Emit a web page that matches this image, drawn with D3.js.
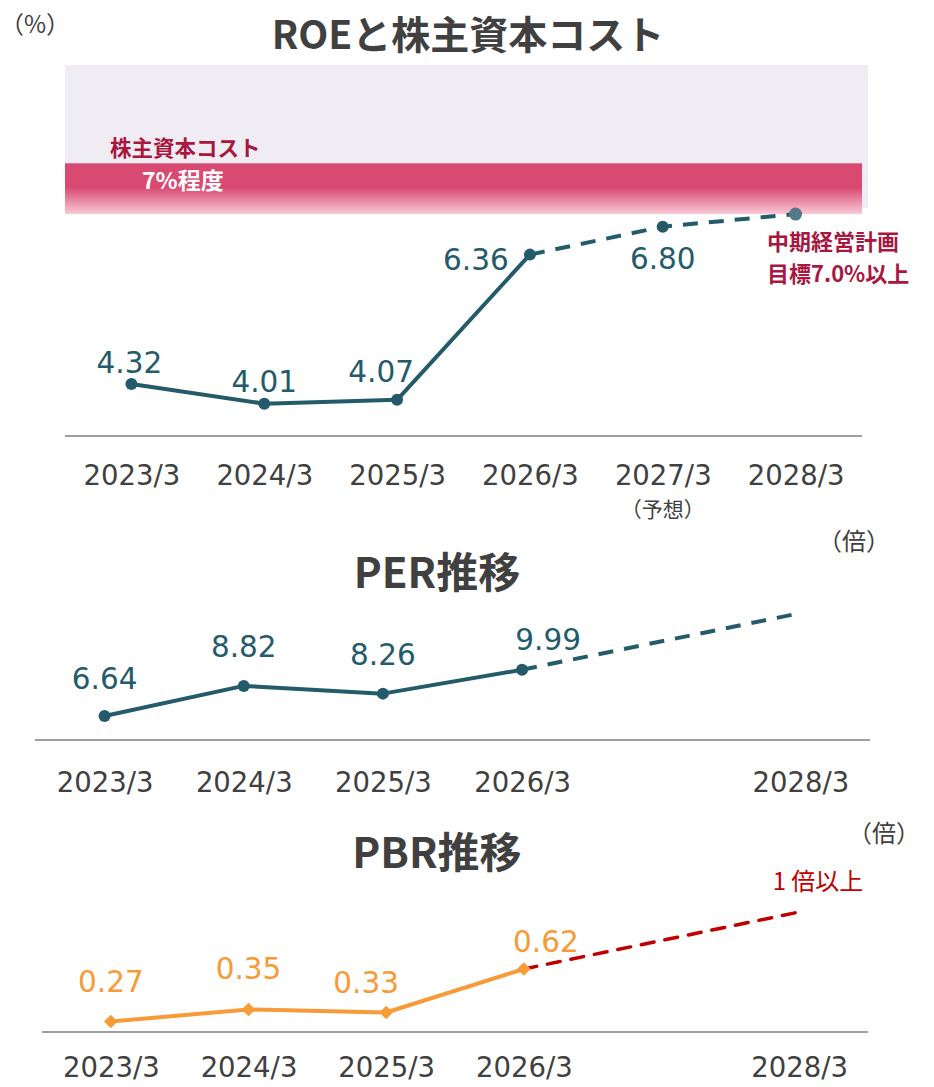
<!DOCTYPE html>
<html lang="ja">
<head>
<meta charset="utf-8">
<script src="https://cdn.jsdelivr.net/npm/d3@7"></script>
<style>
  html, body { margin: 0; padding: 0; background: #fff; }
  svg { display: block; }
</style>
</head>
<body>
<script>
// ---- data ----
const roeCategories = ["2023/3", "2024/3", "2025/3", "2026/3", "2027/3", "2028/3"];
const roeActual = [4.32, 4.01, 4.07, 6.36];       // 2023/3 – 2026/3
const roeForecast = [6.36, 6.80];                 // 2026/3 – 2027/3 (予想)
const roeTarget = 7.0;                            // 2028/3 中期経営計画目標
const costOfEquityBand = [7.0, 7.8];              // 株主資本コスト 7%程度

const perCategories = ["2023/3", "2024/3", "2025/3", "2026/3", "2027/3", "2028/3"];
const perTickLabels = ["2023/3", "2024/3", "2025/3", "2026/3", "", "2028/3"];
const perActual = [6.64, 8.82, 8.26, 9.99];
const perTrendEnd = 14.1;

const pbrCategories = ["2023/3", "2024/3", "2025/3", "2026/3", "2027/3", "2028/3"];
const pbrTickLabels = ["2023/3", "2024/3", "2025/3", "2026/3", "", "2028/3"];
const pbrActual = [0.27, 0.35, 0.33, 0.62];
const pbrTarget = 1.0;

// ---- styles ----
const W = 934, H = 1087;
const TEAL = "#245b6b";
const ORANGE = "#f79a38";
const RED = "#c00000";
const WINE = "#a8173f";
const TEXT = "#404040";
const NUM_FONT = "'DejaVu Sans', Verdana, sans-serif";
const JP_FONT = "'Noto Sans CJK JP', 'Noto Sans', sans-serif";

const svg = d3.select("body").append("svg").attr("width", W).attr("height", H);

const defs = svg.append("defs");
const grad = defs.append("linearGradient").attr("id", "bandGrad")
  .attr("x1", 0).attr("y1", 0).attr("x2", 0).attr("y2", 1);
grad.append("stop").attr("offset", "0%").attr("stop-color", "#d94a72");
grad.append("stop").attr("offset", "48%").attr("stop-color", "#d94a72");
grad.append("stop").attr("offset", "100%").attr("stop-color", "#f9c9d7");

function title(text, x, y, size) {
  svg.append("text").attr("x", x).attr("y", y).attr("text-anchor", "middle")
    .attr("font-family", JP_FONT).attr("font-weight", 700).attr("font-size", size)
    .attr("fill", TEXT).text(text);
}
function unitLabel(text, x, y) {
  svg.append("text").attr("x", x).attr("y", y)
    .attr("font-family", JP_FONT).attr("font-size", 24).attr("fill", TEXT).text(text);
}
function baseAxis(x, y0, labels, pad) {
  const g = svg.append("g").attr("transform", `translate(0,${y0})`)
    .call(d3.axisBottom(x).tickSize(0).tickPadding(pad).tickFormat((d, i) => labels[i]));
  g.select(".domain").attr("stroke", "#7f7f7f").attr("stroke-width", 1.5)
    .attr("d", `M${x.range()[0]},0H${x.range()[1]}`);
  g.selectAll(".tick text").attr("font-family", NUM_FONT).attr("font-size", 27.5)
    .attr("fill", TEXT);
  return g;
}
function valueLabels(x, y, cats, vals, shifts, color, fmt) {
  svg.append("g").selectAll("text").data(vals).join("text")
    .attr("x", (d, i) => x(cats[i]) + shifts[i][0])
    .attr("y", (d, i) => y(d) + shifts[i][1])
    .attr("text-anchor", "middle")
    .attr("font-family", NUM_FONT).attr("font-size", 29.5).attr("fill", color)
    .text(d => fmt(d));
}

// =============== ROE と株主資本コスト ===============
{
  const x = d3.scalePoint().domain(roeCategories).range([65, 862]).padding(0.5);
  const y = d3.scaleLinear().domain([3.5, 9.35]).range([436, 65]);

  title("ROEと株主資本コスト", 468, 49, 39);
  unitLabel("（%）", 0, 33);

  // plan area background and cost-of-equity band
  svg.append("rect").attr("x", 65).attr("width", 803)
    .attr("y", y(9.35)).attr("height", y(costOfEquityBand[0]) - 6 - y(9.35))
    .attr("fill", "#efedf3");
  svg.append("rect").attr("x", 65).attr("width", 797)
    .attr("y", y(costOfEquityBand[1])).attr("height", y(costOfEquityBand[0]) - y(costOfEquityBand[1]))
    .attr("fill", "url(#bandGrad)");
  svg.append("text").attr("x", 110).attr("y", 156)
    .attr("font-family", JP_FONT).attr("font-weight", 700).attr("font-size", 21.5)
    .attr("fill", WINE).text("株主資本コスト");
  svg.append("text").attr("x", 142).attr("y", 189)
    .attr("font-family", JP_FONT).attr("font-weight", 700).attr("font-size", 23)
    .attr("fill", "#fff").text("7%程度");

  baseAxis(x, 436, roeCategories, 29);
  svg.append("text").attr("x", x("2027/3")).attr("y", 517).attr("text-anchor", "middle")
    .attr("font-family", JP_FONT).attr("font-size", 21).attr("fill", TEXT).text("（予想）");

  const line = d3.line().x(d => x(d[0])).y(d => y(d[1]));
  const actualPts = roeActual.map((v, i) => [roeCategories[i], v]);
  const forecastPts = [[roeCategories[3], roeForecast[0]], [roeCategories[4], roeForecast[1]],
                       [roeCategories[5], roeTarget]];
  svg.append("path").attr("d", line(forecastPts)).attr("fill", "none")
    .attr("stroke", TEAL).attr("stroke-width", 4).attr("stroke-dasharray", "15,11");
  svg.append("path").attr("d", line(actualPts)).attr("fill", "none")
    .attr("stroke", TEAL).attr("stroke-width", 4).attr("stroke-linejoin", "round");

  svg.append("g").selectAll("circle").data(actualPts.concat([forecastPts[1]])).join("circle")
    .attr("cx", d => x(d[0])).attr("cy", d => y(d[1])).attr("r", 6).attr("fill", TEAL);
  svg.append("circle").attr("cx", x(roeCategories[5])).attr("cy", y(roeTarget))
    .attr("r", 6.5).attr("fill", "#52798a");

  const roeVals = roeActual.concat([roeForecast[1]]);
  const roeShift = [[-2, -11], [0, -12], [-16, -18], [-54, 15], [0, 42]];
  valueLabels(x, y, roeCategories, roeVals, roeShift, TEAL, d => d.toFixed(2));

  svg.append("text").attr("x", 767).attr("y", 250)
    .attr("font-family", JP_FONT).attr("font-weight", 700).attr("font-size", 22)
    .attr("fill", WINE).text("中期経営計画");
  svg.append("text").attr("x", 767).attr("y", 282)
    .attr("font-family", JP_FONT).attr("font-weight", 700).attr("font-size", 22)
    .attr("fill", WINE).text("目標7.0%以上");
}

// =============== PER推移 ===============
{
  const x = d3.scalePoint().domain(perCategories).range([35, 870]).padding(0.5);
  const y = d3.scaleLinear().domain([4.9, 14.9]).range([740, 602]);

  title("PER推移", 437, 588, 42);
  unitLabel("（倍）", 818, 550);
  baseAxis(x, 740, perTickLabels, 32);

  const line = d3.line().x(d => x(d[0])).y(d => y(d[1]));
  const pts = perActual.map((v, i) => [perCategories[i], v]);
  svg.append("path").attr("d", line([pts[3], [perCategories[5], perTrendEnd]])).attr("fill", "none")
    .attr("stroke", TEAL).attr("stroke-width", 4).attr("stroke-dasharray", "15,11");
  svg.append("path").attr("d", line(pts)).attr("fill", "none")
    .attr("stroke", TEAL).attr("stroke-width", 4).attr("stroke-linejoin", "round");
  svg.append("g").selectAll("circle").data(pts).join("circle")
    .attr("cx", d => x(d[0])).attr("cy", d => y(d[1])).attr("r", 6).attr("fill", TEAL);

  const perShift = [[0, -27], [0, -29], [0, -29], [26, -20]];
  valueLabels(x, y, perCategories, perActual, perShift, TEAL, d => d.toFixed(2));
}

// =============== PBR推移 ===============
{
  const x = d3.scalePoint().domain(pbrCategories).range([42, 868]).padding(0.5);
  const y = d3.scaleLinear().domain([0.2, 1.2]).range([1032, 882]);

  title("PBR推移", 437, 868, 42);
  unitLabel("（倍）", 848, 842);
  baseAxis(x, 1032, pbrTickLabels, 25);

  const line = d3.line().x(d => x(d[0])).y(d => y(d[1]));
  const pts = pbrActual.map((v, i) => [pbrCategories[i], v]);
  svg.append("path").attr("d", line([pts[3], [pbrCategories[5], pbrTarget]])).attr("fill", "none")
    .attr("stroke", RED).attr("stroke-width", 3.5).attr("stroke-dasharray", "13,11")
    .attr("stroke-linecap", "round");
  svg.append("path").attr("d", line(pts)).attr("fill", "none")
    .attr("stroke", ORANGE).attr("stroke-width", 4).attr("stroke-linejoin", "round");
  svg.append("g").selectAll("path.mk").data(pts).join("path").attr("class", "mk")
    .attr("transform", d => `translate(${x(d[0])},${y(d[1])})`)
    .attr("d", d3.symbol(d3.symbolDiamond2, 120)).attr("fill", ORANGE);

  const pbrShift = [[0, -30], [0, -31], [-20, -20], [22, -17]];
  valueLabels(x, y, pbrCategories, pbrActual, pbrShift, ORANGE, d => d.toFixed(2));

  svg.append("text").attr("x", 818).attr("y", 890).attr("text-anchor", "middle")
    .attr("font-family", JP_FONT).attr("font-size", 24).attr("fill", RED).text("1 倍以上");
}
</script>
</body>
</html>
